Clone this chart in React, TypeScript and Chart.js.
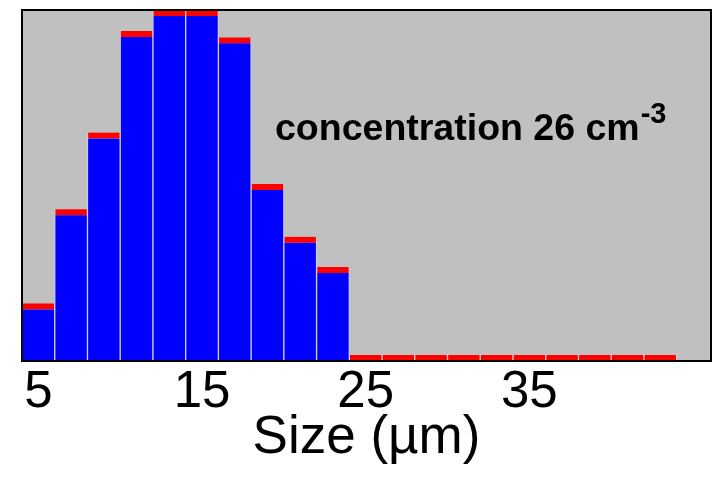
import React, { useEffect, useRef } from 'react';
import { Chart, registerables } from 'chart.js';

Chart.register(...registerables);

// Bin centres (µm), each bin 2 µm wide
const binCenters = [5, 7, 9, 11, 13, 15, 17, 19, 21, 23, 25, 27, 29, 31, 33, 35, 37, 39, 41, 43];
// Blue bar heights (relative counts)
const counts = [14.7, 41.5, 63.4, 92.3, 98.3, 98.3, 90.5, 48.7, 33.7, 25.1, 0, 0, 0, 0, 0, 0, 0, 0, 0, 0];
// Red cap on top of each bar
const caps = [1.7, 1.7, 1.7, 1.7, 1.7, 1.7, 1.7, 1.7, 1.7, 1.7, 1.7, 1.7, 1.7, 1.7, 1.7, 1.7, 1.7, 1.7, 1.7, 1.7];
const xTickValues = [5, 15, 25, 35];
const xMin = 4;
const xMax = 46.1;
const yMax = 100;
const xTitle = 'Size (µm)';
const noteText = 'concentration 26 cm';
const noteSup = '-3';

const FONT = '"Liberation Sans", Arial, Helvetica, sans-serif';

const framePlugin = {
  id: 'framePlugin',
  beforeDraw(chart: any) {
    const { ctx, chartArea } = chart;
    const { left, top, width, height } = chartArea;
    ctx.save();
    ctx.fillStyle = '#c0c0c0';
    ctx.fillRect(left, top, width, height);
    ctx.restore();
  },
  afterDraw(chart: any) {
    const { ctx, chartArea } = chart;
    const { left, top, right, bottom, width, height } = chartArea;
    ctx.save();
    ctx.strokeStyle = '#000000';
    ctx.lineWidth = 2;
    ctx.strokeRect(left, top, right - left, bottom - top);
    // annotation text
    const x0 = left + width * ((275 - 22) / 689);
    const yBase = top + height * ((139 - 10) / 348);
    ctx.fillStyle = '#000000';
    ctx.textBaseline = 'alphabetic';
    ctx.textAlign = 'left';
    ctx.font = `bold 37.5px ${FONT}`;
    ctx.fillText(noteText, x0, yBase);
    const w = ctx.measureText(noteText).width;
    ctx.font = `bold 29px ${FONT}`;
    ctx.fillText(noteSup, x0 + w + 1, yBase - 17);
    ctx.restore();
  },
};

export default function App() {
  const canvasRef = useRef<HTMLCanvasElement | null>(null);

  useEffect(() => {
    document.body.style.margin = '0';
    const canvas = canvasRef.current;
    if (!canvas) return;

    const blueData = binCenters.map((x, i) => ({ x, y: counts[i] }));
    const redData = binCenters.map((x, i) => ({ x, y: [counts[i], counts[i] + caps[i]] }));

    const sep = { left: 1, right: 1, top: 0, bottom: 0 };

    const chart = new Chart(canvas, {
      type: 'bar',
      data: {
        datasets: [
          {
            label: 'counts',
            data: blueData as any,
            backgroundColor: '#0000ff',
            borderColor: '#d0d0f4',
            borderWidth: sep as any,
            borderSkipped: false,
            barPercentage: 1,
            categoryPercentage: 1,
            grouped: false,
          },
          {
            label: 'cap',
            data: redData as any,
            backgroundColor: '#ff0000',
            borderColor: '#e8c8c8',
            borderWidth: sep as any,
            borderSkipped: false,
            barPercentage: 1,
            categoryPercentage: 1,
            grouped: false,
          },
        ],
      },
      options: {
        animation: false,
        responsive: false,
        devicePixelRatio: 1,
        layout: { padding: { left: 22, top: 10, right: 3, bottom: 12 } },
        plugins: {
          legend: { display: false },
          tooltip: { enabled: false },
          title: { display: false },
        },
        scales: {
          x: {
            type: 'linear',
            min: xMin,
            max: xMax,
            offset: false,
            grid: { display: false, drawTicks: false },
            border: { display: false },
            afterBuildTicks: (scale: any) => {
              scale.ticks = xTickValues.map((v) => ({ value: v }));
            },
            ticks: {
              color: '#000000',
              padding: 6,
              maxRotation: 0,
              autoSkip: false,
              font: { family: FONT, size: 51, lineHeight: 1 },
            },
            title: {
              display: true,
              text: xTitle,
              color: '#000000',
              padding: { top: -12, bottom: 0 },
              font: { family: FONT, size: 53, lineHeight: 1 },
            },
          },
          y: {
            display: false,
            min: 0,
            max: yMax,
          },
        },
      },
      plugins: [framePlugin],
    });

    return () => {
      chart.destroy();
    };
  }, []);

  return (
    <div style={{ width: 714, height: 477 }}>
      <canvas ref={canvasRef} width={714} height={477} />
    </div>
  );
}
